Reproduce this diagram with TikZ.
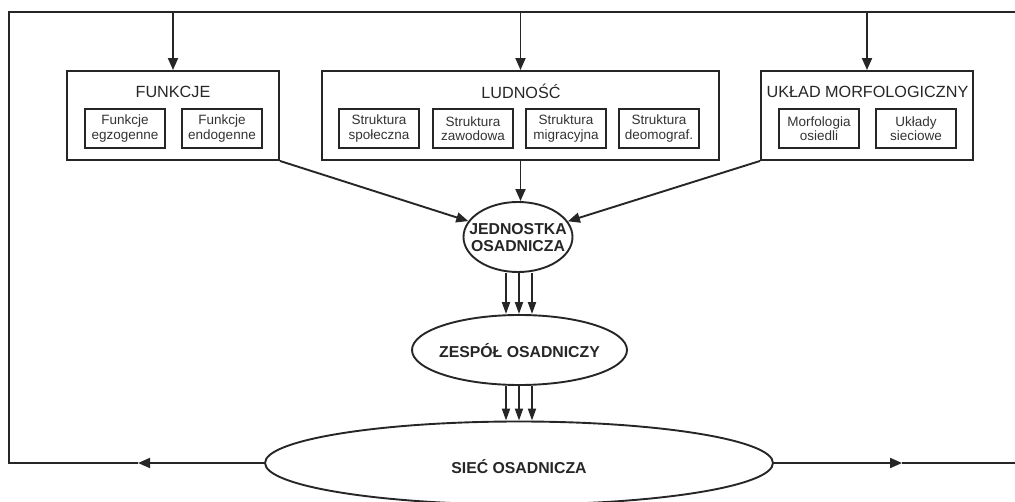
\documentclass[tikz,border=0pt]{standalone}
\usepackage{fontspec}
\setmainfont{Liberation Sans}
\usetikzlibrary{shapes.geometric,arrows.meta}
\begin{document}
\begin{tikzpicture}[x=1pt,y=-1pt,
  color=black!85, line width=1.9pt,
  bigbox/.style={draw, line width=1.9pt, minimum width=#1, minimum height=89pt, inner sep=0pt},
  subbox/.style={draw, line width=2pt, minimum width=80pt, minimum height=39pt, inner sep=0pt,
    align=center, text=black!80, font=\fontsize{13.5}{14.5}\selectfont},
  ttl/.style={inner sep=0pt, text=black!85, font=\fontsize{16.2}{18}\selectfont},
  ell/.style={draw, ellipse, line width=1.9pt, inner sep=0pt},
  etext/.style={inner sep=0pt, align=center, text=black!85, font=\bfseries\fontsize{15.8}{17}\selectfont},
  arr/.style={-{Triangle[length=12pt,width=10pt]}},
  sarr/.style={-{Triangle[length=12pt,width=8pt]}}
]
\useasboundingbox (0,0) rectangle (1015,502);

% main boxes
\node[bigbox=212pt] (fun) at (173,115.5) {};
\node[bigbox=397pt] (lud) at (520.5,115.5) {};
\node[bigbox=212pt] (ukl) at (867,115.5) {};

\node[ttl] (funt) at (173,91.5) {FUNKCJE};
\node[ttl] (ludt) at (521,91.5) {LUDNOŚĆ};
\node[ttl] (uklt) at (867.5,91.5) {UKŁAD MORFOLOGICZNY};

\node[subbox] (f1) at (125,128.5) {Funkcje\\egzogenne};
\node[subbox] (f2) at (222,128.5) {Funkcje\\endogenne};
\node[subbox] (l1) at (379,128.5) {Struktura\\społeczna};
\node[subbox] (l2) at (473,128.5) {Struktura\\zawodowa};
\node[subbox] (l3) at (566,128.5) {Struktura\\migracyjna};
\node[subbox] (l4) at (659,128.5) {Struktura\\deomograf.};
\node[subbox] (u1) at (819,128.5) {Morfologia\\osiedli};
\node[subbox] (u2) at (916,128.5) {Układy\\sieciowe};

% ellipses
\node[ell, minimum width=109pt, minimum height=70pt] (jed) at (518,237) {};
\node[etext] (jedt) at (518,238) {JEDNOSTKA\\OSADNICZA};
\node[ell, minimum width=215pt, minimum height=70pt] (zes) at (519.5,350) {};
\node[etext] (zest) at (519.5,351) {ZESPÓŁ OSADNICZY};
\node[ell, minimum width=508pt, minimum height=83pt] (sie) at (519,463) {};
\node[etext] (siet) at (519,467) {SIEĆ OSADNICZA};

% outer frame
\coordinate (tl) at (9,12);
\coordinate (tr) at (1015,12);
\coordinate (bl) at (9,463);
\coordinate (br) at (1015,463);
\coordinate (al) at (138,463);
\coordinate (ar) at (902,463);
\draw (tr) -- (tl) -- (bl) -- (al);
\draw[arr] (sie.west) -- (al);
\draw[arr] (sie.east) -- (ar);
\draw (ar) -- (br);

% drops from top line
\draw[arr] (fun.north |- tl) -- (fun.north);
\draw[arr] (lud.north |- tl) -- (lud.north);
\draw[arr] (ukl.north |- tl) -- (ukl.north);

% into jednostka
\draw[arr] (fun.south east) -- (jed);
\draw[arr] (lud.south) -- (lud.south |- jed.north);
\draw[arr] (ukl.south west) -- (jed);

% triple arrows
\foreach \xx [count=\i] in {506,519,532} {
  \coordinate (c\i) at (\xx,0);
  \draw[sarr] (c\i |- jed.south) -- (c\i |- zes.north);
  \draw[sarr] (c\i |- zes.south) -- (c\i |- sie.north);
}
\end{tikzpicture}
\end{document}
